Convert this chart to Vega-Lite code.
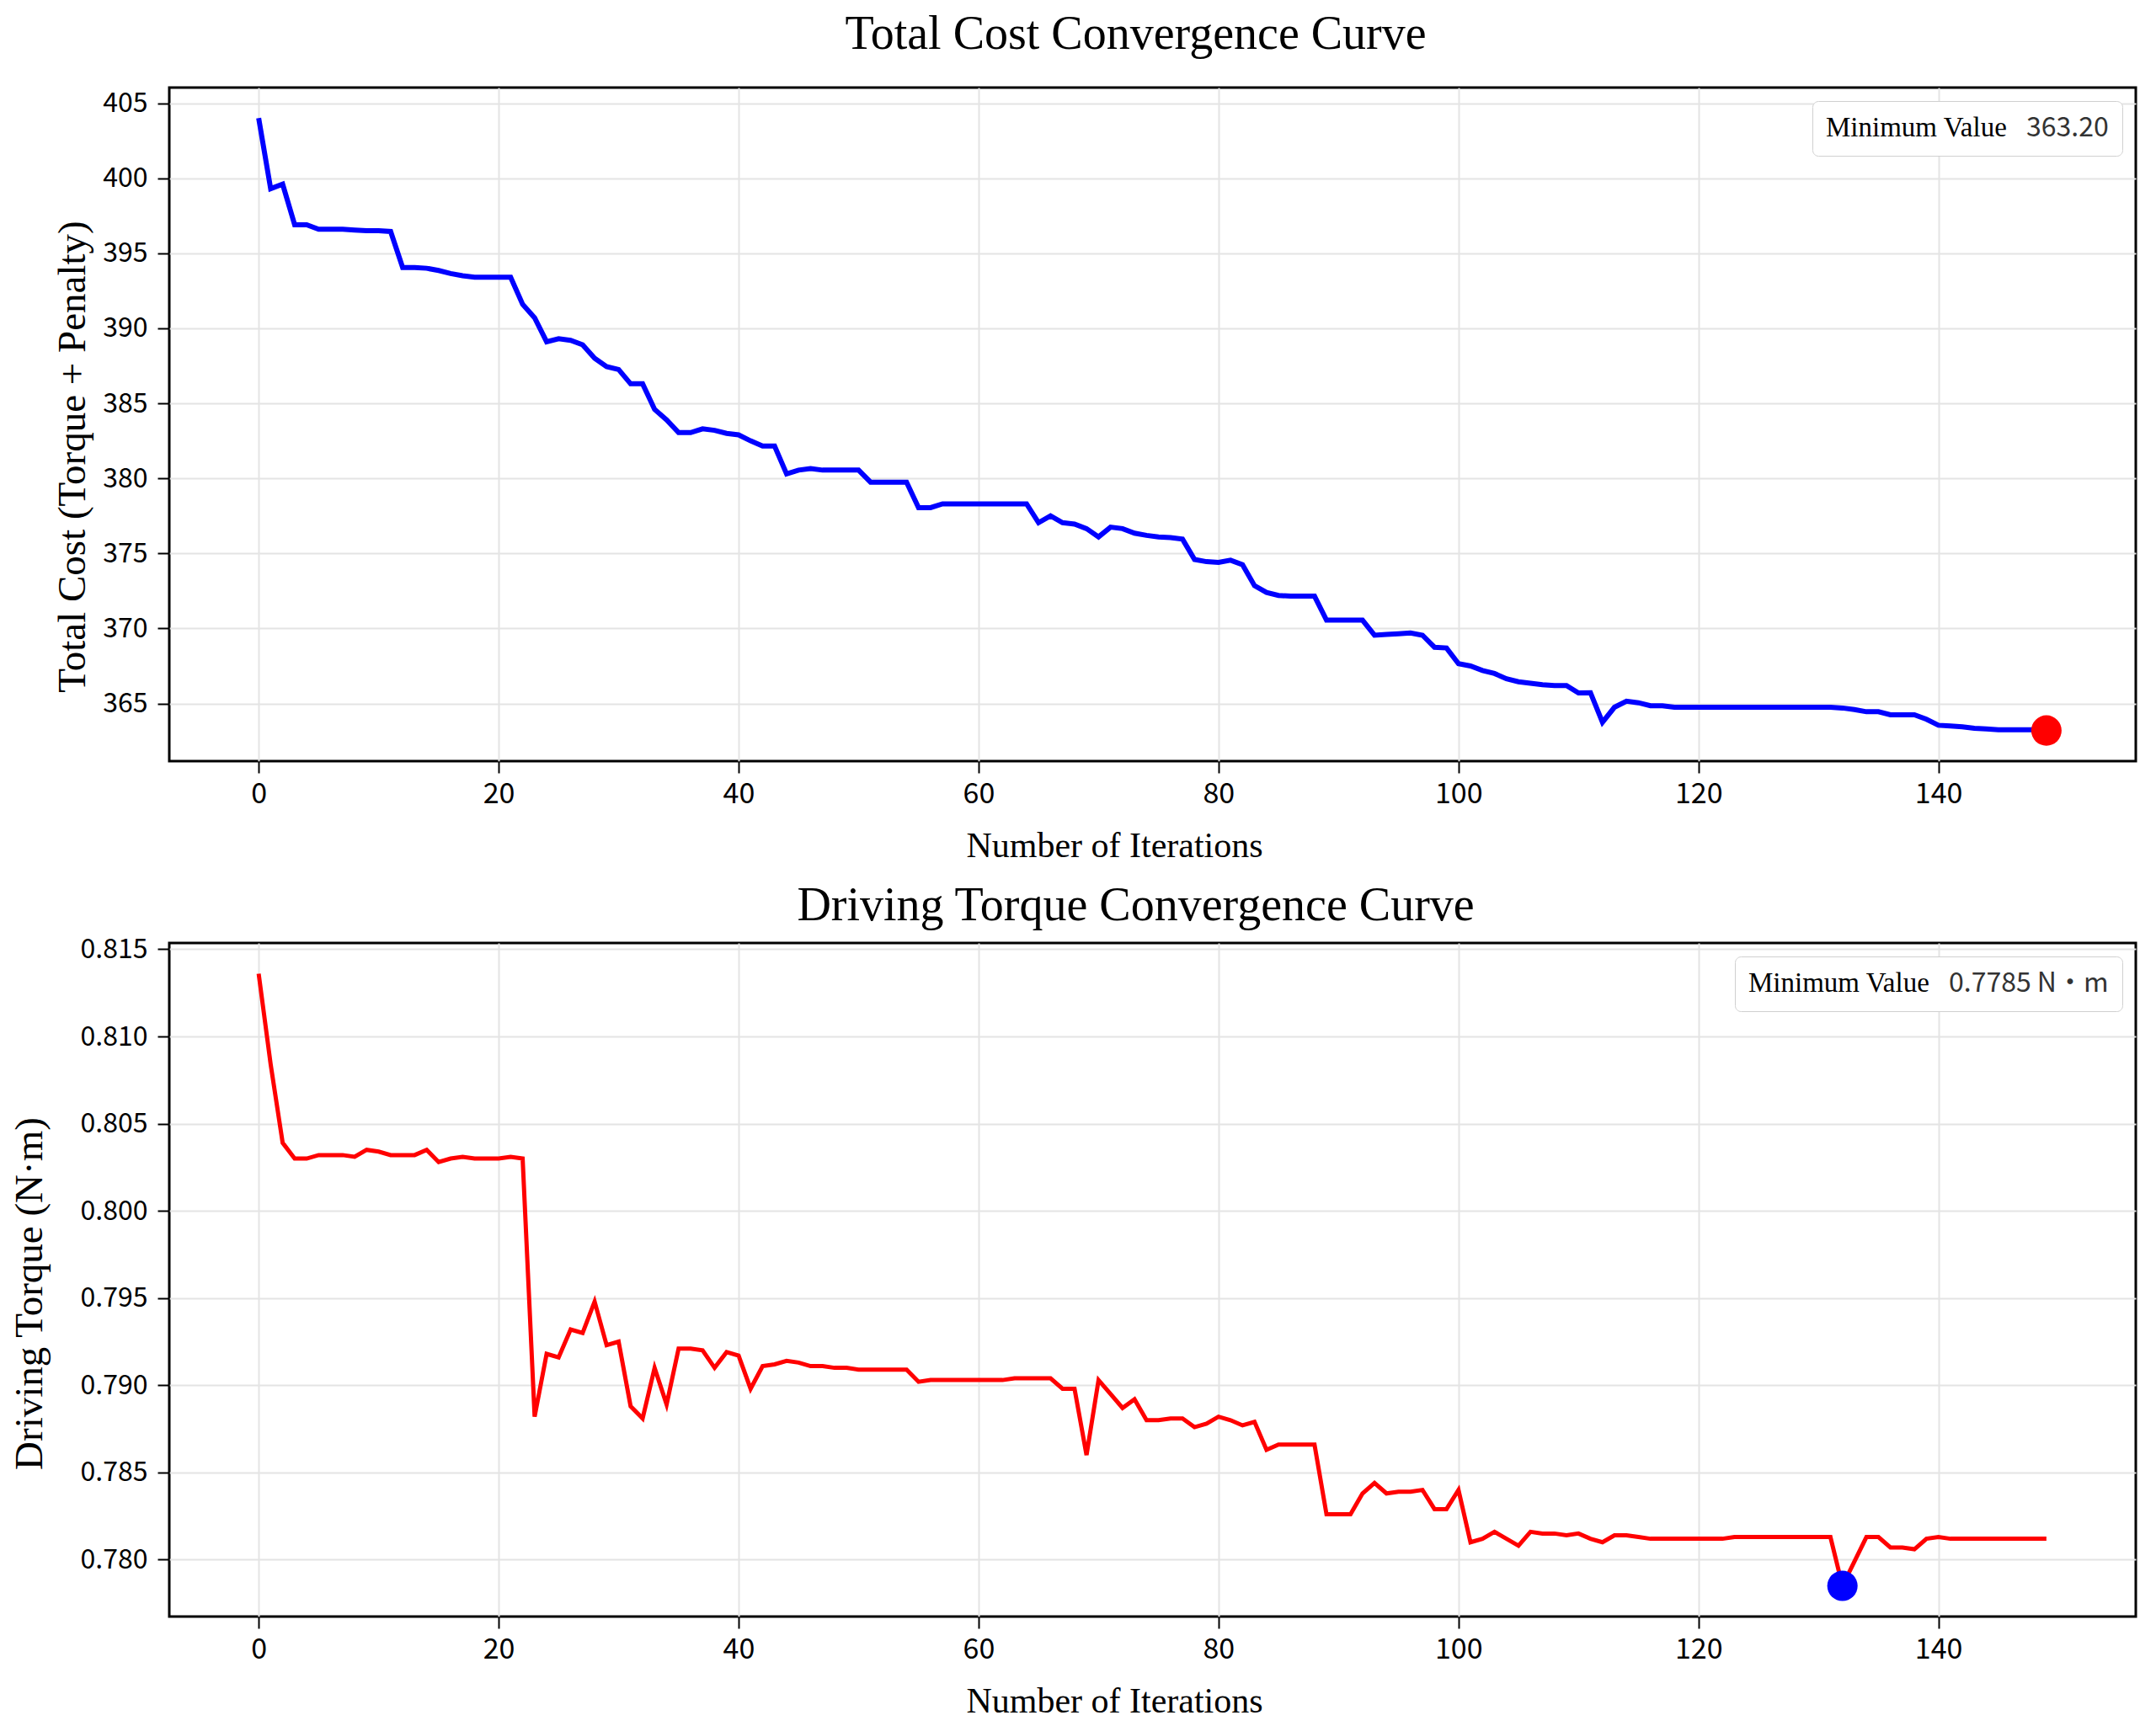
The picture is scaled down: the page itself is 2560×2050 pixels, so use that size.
{
  "$schema": "https://vega.github.io/schema/vega-lite/v6.json",
  "description": "Total cost and driving torque convergence curves over optimisation iterations.",
  "background": "white",
  "padding": {"left": 9, "top": 11, "right": 20, "bottom": 6},
  "spacing": 19,
  "datasets": {
    "cost": [
      {"iter": 0, "value": 404.0}, {"iter": 1, "value": 399.3}, {"iter": 2, "value": 399.6}, {"iter": 3, "value": 396.9},
      {"iter": 4, "value": 396.9}, {"iter": 5, "value": 396.6}, {"iter": 6, "value": 396.6}, {"iter": 7, "value": 396.6},
      {"iter": 8, "value": 396.55}, {"iter": 9, "value": 396.5}, {"iter": 10, "value": 396.5}, {"iter": 11, "value": 396.45},
      {"iter": 12, "value": 394.05}, {"iter": 13, "value": 394.05}, {"iter": 14, "value": 394.0}, {"iter": 15, "value": 393.85},
      {"iter": 16, "value": 393.65}, {"iter": 17, "value": 393.5}, {"iter": 18, "value": 393.4}, {"iter": 19, "value": 393.4},
      {"iter": 20, "value": 393.4}, {"iter": 21, "value": 393.4}, {"iter": 22, "value": 391.6}, {"iter": 23, "value": 390.7},
      {"iter": 24, "value": 389.1}, {"iter": 25, "value": 389.3}, {"iter": 26, "value": 389.2}, {"iter": 27, "value": 388.9},
      {"iter": 28, "value": 388.0}, {"iter": 29, "value": 387.45}, {"iter": 30, "value": 387.25}, {"iter": 31, "value": 386.3},
      {"iter": 32, "value": 386.3}, {"iter": 33, "value": 384.6}, {"iter": 34, "value": 383.9}, {"iter": 35, "value": 383.05},
      {"iter": 36, "value": 383.05}, {"iter": 37, "value": 383.3}, {"iter": 38, "value": 383.2}, {"iter": 39, "value": 383.0},
      {"iter": 40, "value": 382.9}, {"iter": 41, "value": 382.5}, {"iter": 42, "value": 382.15}, {"iter": 43, "value": 382.15},
      {"iter": 44, "value": 380.3}, {"iter": 45, "value": 380.55}, {"iter": 46, "value": 380.65}, {"iter": 47, "value": 380.55},
      {"iter": 48, "value": 380.55}, {"iter": 49, "value": 380.55}, {"iter": 50, "value": 380.55}, {"iter": 51, "value": 379.75},
      {"iter": 52, "value": 379.75}, {"iter": 53, "value": 379.75}, {"iter": 54, "value": 379.75}, {"iter": 55, "value": 378.05},
      {"iter": 56, "value": 378.05}, {"iter": 57, "value": 378.3}, {"iter": 58, "value": 378.3}, {"iter": 59, "value": 378.3},
      {"iter": 60, "value": 378.3}, {"iter": 61, "value": 378.3}, {"iter": 62, "value": 378.3}, {"iter": 63, "value": 378.3},
      {"iter": 64, "value": 378.3}, {"iter": 65, "value": 377.05}, {"iter": 66, "value": 377.5}, {"iter": 67, "value": 377.05},
      {"iter": 68, "value": 376.95}, {"iter": 69, "value": 376.65}, {"iter": 70, "value": 376.1}, {"iter": 71, "value": 376.75},
      {"iter": 72, "value": 376.65}, {"iter": 73, "value": 376.35}, {"iter": 74, "value": 376.2}, {"iter": 75, "value": 376.1},
      {"iter": 76, "value": 376.05}, {"iter": 77, "value": 375.95}, {"iter": 78, "value": 374.6}, {"iter": 79, "value": 374.45},
      {"iter": 80, "value": 374.4}, {"iter": 81, "value": 374.55}, {"iter": 82, "value": 374.25}, {"iter": 83, "value": 372.85},
      {"iter": 84, "value": 372.4}, {"iter": 85, "value": 372.2}, {"iter": 86, "value": 372.15}, {"iter": 87, "value": 372.15},
      {"iter": 88, "value": 372.15}, {"iter": 89, "value": 370.55}, {"iter": 90, "value": 370.55}, {"iter": 91, "value": 370.55},
      {"iter": 92, "value": 370.55}, {"iter": 93, "value": 369.55}, {"iter": 94, "value": 369.6}, {"iter": 95, "value": 369.65},
      {"iter": 96, "value": 369.7}, {"iter": 97, "value": 369.55}, {"iter": 98, "value": 368.75}, {"iter": 99, "value": 368.7},
      {"iter": 100, "value": 367.65}, {"iter": 101, "value": 367.5}, {"iter": 102, "value": 367.2}, {"iter": 103, "value": 367.0},
      {"iter": 104, "value": 366.65}, {"iter": 105, "value": 366.45}, {"iter": 106, "value": 366.35}, {"iter": 107, "value": 366.25},
      {"iter": 108, "value": 366.2}, {"iter": 109, "value": 366.2}, {"iter": 110, "value": 365.7}, {"iter": 111, "value": 365.72},
      {"iter": 112, "value": 363.75}, {"iter": 113, "value": 364.75}, {"iter": 114, "value": 365.15}, {"iter": 115, "value": 365.05},
      {"iter": 116, "value": 364.85}, {"iter": 117, "value": 364.85}, {"iter": 118, "value": 364.75}, {"iter": 119, "value": 364.75},
      {"iter": 120, "value": 364.75}, {"iter": 121, "value": 364.75}, {"iter": 122, "value": 364.75}, {"iter": 123, "value": 364.75},
      {"iter": 124, "value": 364.75}, {"iter": 125, "value": 364.75}, {"iter": 126, "value": 364.75}, {"iter": 127, "value": 364.75},
      {"iter": 128, "value": 364.75}, {"iter": 129, "value": 364.75}, {"iter": 130, "value": 364.75}, {"iter": 131, "value": 364.75},
      {"iter": 132, "value": 364.7}, {"iter": 133, "value": 364.6}, {"iter": 134, "value": 364.45}, {"iter": 135, "value": 364.45},
      {"iter": 136, "value": 364.25}, {"iter": 137, "value": 364.25}, {"iter": 138, "value": 364.25}, {"iter": 139, "value": 363.95},
      {"iter": 140, "value": 363.55}, {"iter": 141, "value": 363.5}, {"iter": 142, "value": 363.45}, {"iter": 143, "value": 363.35},
      {"iter": 144, "value": 363.3}, {"iter": 145, "value": 363.25}, {"iter": 146, "value": 363.25}, {"iter": 147, "value": 363.25},
      {"iter": 148, "value": 363.25}, {"iter": 149, "value": 363.2}
    ],
    "costMin": [
      {"iter": 149, "value": 363.2, "lbl": "363.20"}
    ],
    "torque": [
      {"iter": 0, "value": 0.8136}, {"iter": 1, "value": 0.8084}, {"iter": 2, "value": 0.8039}, {"iter": 3, "value": 0.803},
      {"iter": 4, "value": 0.803}, {"iter": 5, "value": 0.8032}, {"iter": 6, "value": 0.8032}, {"iter": 7, "value": 0.8032},
      {"iter": 8, "value": 0.8031}, {"iter": 9, "value": 0.8035}, {"iter": 10, "value": 0.8034}, {"iter": 11, "value": 0.8032},
      {"iter": 12, "value": 0.8032}, {"iter": 13, "value": 0.8032}, {"iter": 14, "value": 0.8035}, {"iter": 15, "value": 0.8028},
      {"iter": 16, "value": 0.803}, {"iter": 17, "value": 0.8031}, {"iter": 18, "value": 0.803}, {"iter": 19, "value": 0.803},
      {"iter": 20, "value": 0.803}, {"iter": 21, "value": 0.8031}, {"iter": 22, "value": 0.803}, {"iter": 23, "value": 0.7882},
      {"iter": 24, "value": 0.7918}, {"iter": 25, "value": 0.7916}, {"iter": 26, "value": 0.7932}, {"iter": 27, "value": 0.793},
      {"iter": 28, "value": 0.7948}, {"iter": 29, "value": 0.7923}, {"iter": 30, "value": 0.7925}, {"iter": 31, "value": 0.7888},
      {"iter": 32, "value": 0.7881}, {"iter": 33, "value": 0.791}, {"iter": 34, "value": 0.7889}, {"iter": 35, "value": 0.7921},
      {"iter": 36, "value": 0.7921}, {"iter": 37, "value": 0.792}, {"iter": 38, "value": 0.791}, {"iter": 39, "value": 0.7919},
      {"iter": 40, "value": 0.7917}, {"iter": 41, "value": 0.7898}, {"iter": 42, "value": 0.7911}, {"iter": 43, "value": 0.7912},
      {"iter": 44, "value": 0.7914}, {"iter": 45, "value": 0.7913}, {"iter": 46, "value": 0.7911}, {"iter": 47, "value": 0.7911},
      {"iter": 48, "value": 0.791}, {"iter": 49, "value": 0.791}, {"iter": 50, "value": 0.7909}, {"iter": 51, "value": 0.7909},
      {"iter": 52, "value": 0.7909}, {"iter": 53, "value": 0.7909}, {"iter": 54, "value": 0.7909}, {"iter": 55, "value": 0.7902},
      {"iter": 56, "value": 0.7903}, {"iter": 57, "value": 0.7903}, {"iter": 58, "value": 0.7903}, {"iter": 59, "value": 0.7903},
      {"iter": 60, "value": 0.7903}, {"iter": 61, "value": 0.7903}, {"iter": 62, "value": 0.7903}, {"iter": 63, "value": 0.7904},
      {"iter": 64, "value": 0.7904}, {"iter": 65, "value": 0.7904}, {"iter": 66, "value": 0.7904}, {"iter": 67, "value": 0.7898},
      {"iter": 68, "value": 0.7898}, {"iter": 69, "value": 0.786}, {"iter": 70, "value": 0.7903}, {"iter": 71, "value": 0.7895},
      {"iter": 72, "value": 0.7887}, {"iter": 73, "value": 0.7892}, {"iter": 74, "value": 0.788}, {"iter": 75, "value": 0.788},
      {"iter": 76, "value": 0.7881}, {"iter": 77, "value": 0.7881}, {"iter": 78, "value": 0.7876}, {"iter": 79, "value": 0.7878},
      {"iter": 80, "value": 0.7882}, {"iter": 81, "value": 0.788}, {"iter": 82, "value": 0.7877}, {"iter": 83, "value": 0.7879},
      {"iter": 84, "value": 0.7863}, {"iter": 85, "value": 0.7866}, {"iter": 86, "value": 0.7866}, {"iter": 87, "value": 0.7866},
      {"iter": 88, "value": 0.7866}, {"iter": 89, "value": 0.7826}, {"iter": 90, "value": 0.7826}, {"iter": 91, "value": 0.7826},
      {"iter": 92, "value": 0.7838}, {"iter": 93, "value": 0.7844}, {"iter": 94, "value": 0.7838}, {"iter": 95, "value": 0.7839},
      {"iter": 96, "value": 0.7839}, {"iter": 97, "value": 0.784}, {"iter": 98, "value": 0.7829}, {"iter": 99, "value": 0.7829},
      {"iter": 100, "value": 0.784}, {"iter": 101, "value": 0.781}, {"iter": 102, "value": 0.7812}, {"iter": 103, "value": 0.7816},
      {"iter": 104, "value": 0.7812}, {"iter": 105, "value": 0.7808}, {"iter": 106, "value": 0.7816}, {"iter": 107, "value": 0.7815},
      {"iter": 108, "value": 0.7815}, {"iter": 109, "value": 0.7814}, {"iter": 110, "value": 0.7815}, {"iter": 111, "value": 0.7812},
      {"iter": 112, "value": 0.781}, {"iter": 113, "value": 0.7814}, {"iter": 114, "value": 0.7814}, {"iter": 115, "value": 0.7813},
      {"iter": 116, "value": 0.7812}, {"iter": 117, "value": 0.7812}, {"iter": 118, "value": 0.7812}, {"iter": 119, "value": 0.7812},
      {"iter": 120, "value": 0.7812}, {"iter": 121, "value": 0.7812}, {"iter": 122, "value": 0.7812}, {"iter": 123, "value": 0.7813},
      {"iter": 124, "value": 0.7813}, {"iter": 125, "value": 0.7813}, {"iter": 126, "value": 0.7813}, {"iter": 127, "value": 0.7813},
      {"iter": 128, "value": 0.7813}, {"iter": 129, "value": 0.7813}, {"iter": 130, "value": 0.7813}, {"iter": 131, "value": 0.7813},
      {"iter": 132, "value": 0.7785}, {"iter": 133, "value": 0.7799}, {"iter": 134, "value": 0.7813}, {"iter": 135, "value": 0.7813},
      {"iter": 136, "value": 0.7807}, {"iter": 137, "value": 0.7807}, {"iter": 138, "value": 0.7806}, {"iter": 139, "value": 0.7812},
      {"iter": 140, "value": 0.7813}, {"iter": 141, "value": 0.7812}, {"iter": 142, "value": 0.7812}, {"iter": 143, "value": 0.7812},
      {"iter": 144, "value": 0.7812}, {"iter": 145, "value": 0.7812}, {"iter": 146, "value": 0.7812}, {"iter": 147, "value": 0.7812},
      {"iter": 148, "value": 0.7812}, {"iter": 149, "value": 0.7812}
    ],
    "torqueMin": [
      {"iter": 132, "value": 0.7785, "lbl": "0.7785 N·m"}
    ]
  },
  "vconcat": [
    {
      "width": 2335,
      "height": 800,
      "title": {"text": "Total Cost Convergence Curve", "offset": 34},
      "encoding": {
        "x": {
          "field": "iter", "type": "quantitative",
          "scale": {"domain": [-7.45, 156.45], "nice": false, "zero": false},
          "axis": {"values": [0, 20, 40, 60, 80, 100, 120, 140], "title": "Number of Iterations"}
        },
        "y": {
          "field": "value", "type": "quantitative",
          "scale": {"domain": [361.16, 406.04], "nice": false, "zero": false},
          "axis": {"values": [365, 370, 375, 380, 385, 390, 395, 400, 405], "format": "d", "title": "Total Cost (Torque + Penalty)", "titlePadding": 11, "titleY": 438}
        }
      },
      "layer": [
        {
          "data": {"name": "cost"},
          "mark": {"type": "line", "color": "#0000ff", "strokeWidth": 6}
        },
        {
          "data": {"name": "costMin"},
          "mark": {"type": "circle", "size": 1300, "opacity": 1},
          "encoding": {
            "color": {
              "field": "lbl", "type": "nominal",
              "scale": {"range": ["#ff0000"]},
              "legend": {"title": "Minimum Value"}
            }
          }
        }
      ]
    },
    {
      "width": 2335,
      "height": 800,
      "title": {"text": "Driving Torque Convergence Curve", "offset": 6},
      "encoding": {
        "x": {
          "field": "iter", "type": "quantitative",
          "scale": {"domain": [-7.45, 156.45], "nice": false, "zero": false},
          "axis": {"values": [0, 20, 40, 60, 80, 100, 120, 140], "title": "Number of Iterations"}
        },
        "y": {
          "field": "value", "type": "quantitative",
          "scale": {"domain": [0.77674, 0.81536], "nice": false, "zero": false},
          "axis": {"values": [0.78, 0.785, 0.79, 0.795, 0.8, 0.805, 0.81, 0.815], "format": ".3f", "title": "Driving Torque (N·m)", "titlePadding": 36, "titleY": 416}
        }
      },
      "layer": [
        {
          "data": {"name": "torque"},
          "mark": {"type": "line", "color": "#ff0000", "strokeWidth": 5}
        },
        {
          "data": {"name": "torqueMin"},
          "mark": {"type": "circle", "size": 1300, "opacity": 1},
          "encoding": {
            "color": {
              "field": "lbl", "type": "nominal",
              "scale": {"range": ["#0000ff"]},
              "legend": {"title": "Minimum Value"}
            }
          }
        }
      ]
    }
  ],
  "resolve": {"scale": {"color": "independent"}, "legend": {"color": "independent"}},
  "config": {
    "view": {"stroke": "black", "strokeWidth": 3},
    "title": {
      "font": "Liberation Serif", "fontSize": 56, "fontWeight": "normal",
      "color": "black", "frame": "group", "anchor": "middle", "dx": -20
    },
    "axis": {
      "domain": false,
      "grid": true, "gridColor": "#e4e4e4", "gridWidth": 2,
      "ticks": true, "tickColor": "black", "tickSize": 14, "tickWidth": 2,
      "labelFont": "Noto Sans CJK SC", "labelFontSize": 34, "labelColor": "black",
      "titleFont": "Liberation Serif", "titleFontWeight": "normal", "titleColor": "black"
    },
    "axisX": {"titleFontSize": 42, "titlePadding": 24, "labelPadding": 8, "titleX": 1122},
    "axisY": {"titleFontSize": 47, "labelPadding": 12, "labelFontSize": 32},
    "legend": {
      "orient": "top-right", "offset": 16,
      "strokeColor": "#d0d0d0", "fillColor": "white", "cornerRadius": 7, "padding": 16,
      "titleOrient": "left", "titleFont": "Liberation Serif", "titleFontSize": 33,
      "titleFontWeight": "normal", "titleColor": "black", "titlePadding": 0, "titleLimit": 500,
      "labelFont": "Noto Sans CJK SC", "labelFontSize": 32, "labelColor": "#333333", "labelLimit": 500,
      "symbolOpacity": 0, "symbolSize": 0, "symbolStrokeWidth": 0, "labelOffset": -10
    }
  }
}
